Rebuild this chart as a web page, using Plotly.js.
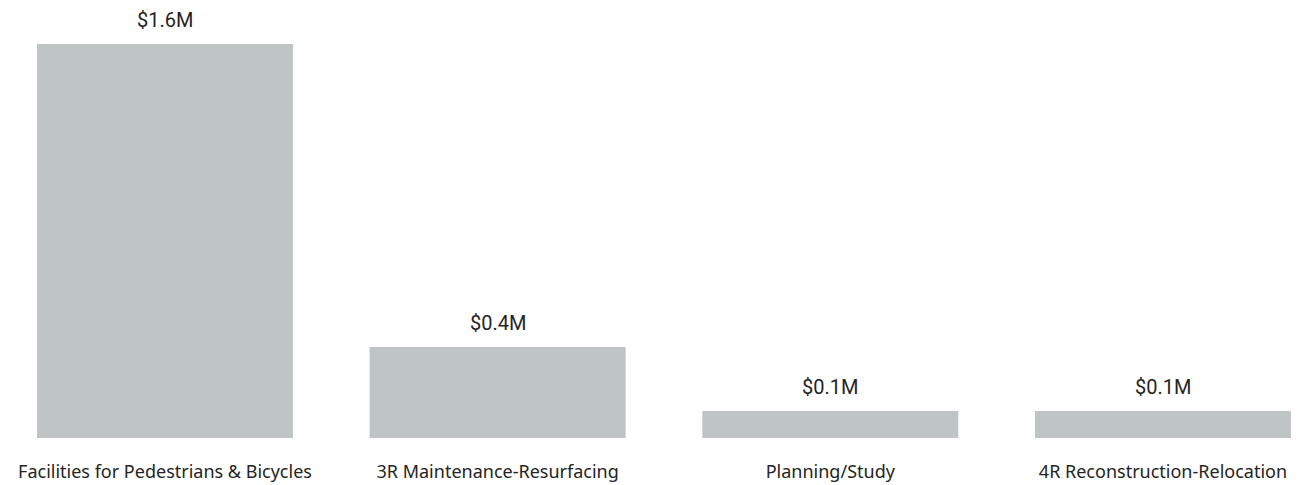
<!DOCTYPE html>
<html>
<head>
<meta charset="utf-8">
<script src="https://cdn.plot.ly/plotly-3.0.1.min.js"></script>
<style>html,body{margin:0;padding:0;background:#fff;}#chart{width:1303px;height:485px;}</style>
</head>
<body>
<div id="chart"></div>
<script>
const categories = ["Facilities for Pedestrians & Bicycles", "3R Maintenance-Resurfacing", "Planning/Study", "4R Reconstruction-Relocation"];
const values = [1.6, 0.37, 0.11, 0.11];
const labels = values.map(v => "$" + v.toFixed(1) + "M");

const trace = {
  type: "bar",
  x: categories,
  y: values,
  marker: {color: "#BFC5C4"},
  hoverinfo: "none"
};

const annotations = categories.map((c, i) => ({
  x: c, y: values[i], text: labels[i], showarrow: false,
  xref: "x", yref: "y", yanchor: "middle", yshift: 24,
  font: {family: "Roboto, DejaVu Sans, sans-serif", size: 20, color: "#252423", weight: 400}
}));

const layout = {
  width: 1303, height: 485,
  margin: {l: 0, r: 0, t: 44, b: 47, pad: 0},
  paper_bgcolor: "#ffffff", plot_bgcolor: "#ffffff",
  bargap: 0.2305,
  showlegend: false,
  xaxis: {
    type: "category",
    range: [-0.496, 3.421],
    showgrid: false, zeroline: false, showline: false, ticks: "",
    ticklabelstandoff: 21,
    tickfont: {family: "Noto Sans, Open Sans, sans-serif", size: 18, color: "#252423"}
  },
  yaxis: {
    range: [0, 1.6], visible: false, showgrid: false, zeroline: false
  },
  annotations: annotations
};

Plotly.newPlot("chart", [trace], layout, {staticPlot: true, displayModeBar: false});
</script>
</body>
</html>
